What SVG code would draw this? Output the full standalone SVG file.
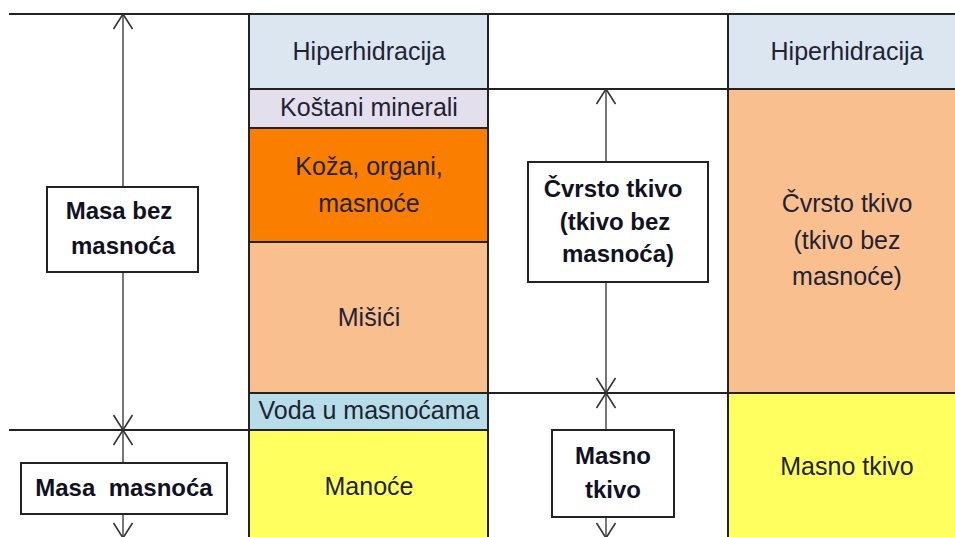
<svg xmlns="http://www.w3.org/2000/svg" width="955" height="537" viewBox="0 0 955 537">
<defs>
<style>
.t{font-family:"Liberation Sans",Arial,sans-serif;font-size:25px;fill:#1f2333;text-anchor:middle}
.b{font-family:"Liberation Sans",Arial,sans-serif;font-size:24px;font-weight:bold;fill:#111122;text-anchor:middle}
.cell{stroke:#222;stroke-width:2}
.grid{stroke:#222;stroke-width:2;fill:none}
.conn{stroke:#555;stroke-width:1.6;fill:none;marker-start:url(#ah);marker-end:url(#ah)}
.box{fill:#fff;stroke:#222;stroke-width:2}
</style>
<marker id="ah" viewBox="0 0 20 20" markerWidth="20" markerHeight="20" refX="20" refY="10" orient="auto-start-reverse" markerUnits="userSpaceOnUse">
<path d="M5,0.5 L20,10 L5,19.5" fill="none" stroke="#333" stroke-width="1.6"/>
</marker>
</defs>
<rect width="955" height="537" fill="#fff"/>
<g id="col-left">
<rect class="cell" x="249" y="14" width="239" height="75" fill="#dce6f1"/>
<rect class="cell" x="249" y="89" width="239" height="39" fill="#e4dfec"/>
<rect class="cell" x="249" y="128" width="239" height="114" fill="#fa7f00"/>
<rect class="cell" x="249" y="242" width="239" height="151" fill="#f9bf8f"/>
<rect class="cell" x="249" y="393" width="239" height="37" fill="#b7dde8"/>
<rect class="cell" x="249" y="430" width="239" height="110" fill="#ffff60"/>
<text class="t" x="369" y="60">Hiperhidracija</text>
<text class="t" x="369" y="116">Koštani minerali</text>
<text class="t" x="369" y="175">Koža, organi,</text>
<text class="t" x="369" y="212">masnoće</text>
<text class="t" x="369" y="326">Mišići</text>
<text class="t" x="369" y="419">Voda u masnoćama</text>
<text class="t" x="369" y="495">Manoće</text>
</g>
<g id="col-right">
<rect class="cell" x="728" y="14" width="240" height="75" fill="#dce6f1"/>
<rect class="cell" x="728" y="89" width="240" height="304" fill="#f9bf8f"/>
<rect class="cell" x="728" y="393" width="240" height="147" fill="#ffff60"/>
<text class="t" x="847" y="60">Hiperhidracija</text>
<text class="t" x="847" y="212">Čvrsto tkivo</text>
<text class="t" x="847" y="249">(tkivo bez</text>
<text class="t" x="847" y="285">masnoće)</text>
<text class="t" x="847" y="475">Masno tkivo</text>
</g>
<g id="gridlines">
<path class="grid" d="M9,14 H955 M488,89 H728 M488,393 H728 M9,430 H249 M488,14 V537"/>
</g>
<g id="connectors">
<line class="conn" x1="123" y1="14" x2="123" y2="430"/>
<line class="conn" x1="123" y1="430" x2="123" y2="538"/>
<line class="conn" x1="606" y1="89" x2="606" y2="393"/>
<line class="conn" x1="606" y1="393" x2="606" y2="538"/>
</g>
<g id="masa-bez-masnoca">
<rect class="box" x="47" y="187" width="151" height="85"/>
<text class="b" x="119" y="219">Masa bez</text>
<text class="b" x="123" y="254">masnoća</text>
</g>
<g id="masa-masnoca">
<rect class="box" x="21" y="463" width="206" height="51"/>
<text class="b" x="124" y="496" xml:space="preserve">Masa  masnoća</text>
</g>
<g id="cvrsto-tkivo">
<rect class="box" x="528" y="162" width="180" height="120"/>
<text class="b" x="613" y="197">Čvrsto tkivo</text>
<text class="b" x="615" y="230">(tkivo bez</text>
<text class="b" x="618" y="262">masnoća)</text>
</g>
<g id="masno-tkivo">
<rect class="box" x="552" y="430" width="122" height="87"/>
<text class="b" x="613" y="464">Masno</text>
<text class="b" x="613" y="498">tkivo</text>
</g>
</svg>
